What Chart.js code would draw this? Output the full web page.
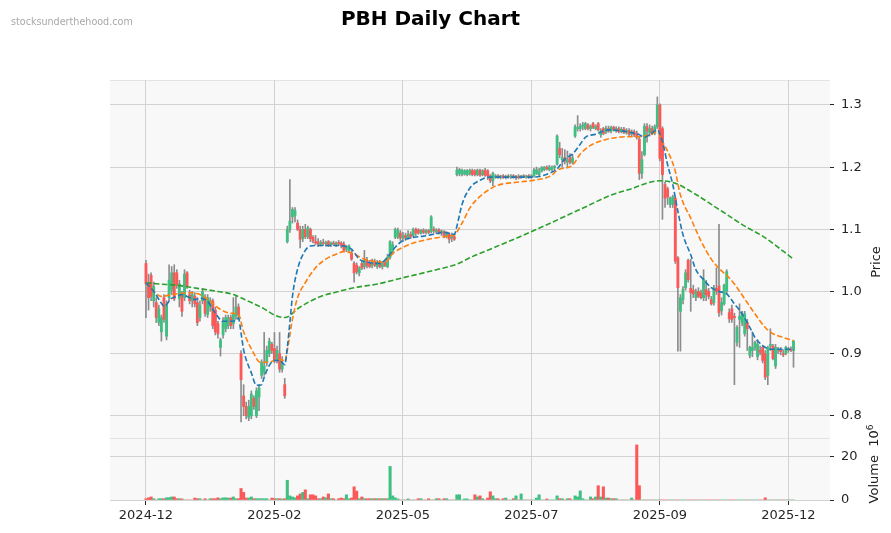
<!DOCTYPE html>
<html>
<head>
<meta charset="utf-8">
<script src="https://cdn.jsdelivr.net/npm/chart.js@4.4.1/dist/chart.umd.min.js"></script>
<style>
  body { margin: 0; background: #fff; font-family: "DejaVu Sans", sans-serif; }
  #wrap { position: relative; width: 891px; height: 533px; }
  #title { position: absolute; left: 0; top: 6px; width: 861px; text-align: center; font-weight: bold; font-size: 20px; color: #000; }
  #mark { position: absolute; left: 11px; top: 16px; font-size: 9.6px; color: #a8a8a8; }
  .rot { position: absolute; transform: translate(-50%, -50%) rotate(-90deg); font-size: 13px; color: #222; white-space: nowrap; }
</style>
</head>
<body>
<div id="wrap">
  <canvas id="c" width="891" height="533"></canvas>
  <div id="title">PBH Daily Chart</div>
  <div id="mark">stocksunderthehood.com</div>
  <div class="rot" style="left:875px; top:262px;">Price</div>
  <div class="rot" style="left:873px; top:464px;">Volume&nbsp; 10<sup style="font-size:9px">6</sup></div>
</div>
<script>
// daily candles, index 0 = first trading day of 2024-12
const opens = [
  1.045,1.012,1.026,0.985,0.982,0.950,0.935,0.990,0.928,0.990,
  1.002,1.030,1.030,0.988,0.995,0.990,1.030,0.995,0.985,0.992,
  0.982,0.958,0.985,0.990,0.963,0.975,0.985,0.970,0.948,0.910,
  0.930,0.940,0.945,0.958,0.948,0.960,0.975,0.900,0.832,0.815,
  0.797,0.800,0.828,0.800,0.830,0.865,0.870,0.885,0.900,0.915,
  0.908,0.890,0.900,0.875,0.850,1.080,1.100,1.120,1.122,1.110,
  1.100,1.085,1.100,1.088,1.100,1.087,1.080,1.080,1.076,1.078,
  1.077,1.080,1.075,1.078,1.076,1.078,1.078,1.076,1.068,1.066,
  1.062,1.045,1.042,1.030,1.045,1.040,1.050,1.046,1.042,1.048,
  1.040,1.047,1.040,1.046,1.040,1.055,1.065,1.087,1.088,1.094,
  1.086,1.090,1.086,1.092,1.090,1.100,1.099,1.094,1.098,1.095,
  1.098,1.096,1.100,1.096,1.099,1.094,1.096,1.090,1.092,1.086,
  1.088,1.188,1.190,1.188,1.189,1.188,1.189,1.195,1.194,1.188,
  1.195,1.188,1.195,1.194,1.186,1.178,1.184,1.186,1.184,1.186,
  1.183,1.185,1.184,1.186,1.183,1.185,1.184,1.186,1.184,1.186,
  1.184,1.186,1.190,1.188,1.194,1.196,1.200,1.196,1.196,1.199,
  1.205,1.230,1.212,1.215,1.208,1.215,1.208,1.250,1.262,1.262,
  1.266,1.262,1.268,1.262,1.270,1.262,1.270,1.252,1.262,1.256,
  1.262,1.258,1.264,1.258,1.262,1.257,1.261,1.256,1.259,1.253,
  1.257,1.254,1.245,1.190,1.220,1.265,1.255,1.262,1.255,1.265,
  1.300,1.262,1.172,1.165,1.140,1.140,1.150,1.054,0.968,0.987,
  1.006,1.050,1.005,1.002,0.990,1.000,0.998,0.990,1.003,1.000,
  0.987,0.982,1.005,1.009,0.969,0.980,1.000,0.966,0.972,0.960,
  0.918,0.955,0.950,0.932,0.950,0.897,0.905,0.910,0.895,0.905,
  0.910,0.900,0.865,0.912,0.912,0.880,0.905,0.906,0.900,0.900,
  0.906,0.907,0.905
];
const highs = [
  1.050,1.028,1.030,1.015,0.990,0.978,0.962,0.995,0.985,1.043,
  1.040,1.043,1.035,1.018,1.000,1.035,1.032,1.002,1.000,0.998,
  0.990,0.985,1.005,0.995,0.995,0.990,0.988,0.975,0.952,0.925,
  0.958,0.962,0.962,0.962,0.990,0.992,0.980,0.905,0.850,0.822,
  0.825,0.840,0.832,0.845,0.850,0.890,0.934,0.912,0.925,0.918,
  0.934,0.912,0.934,0.895,0.860,1.105,1.180,1.135,1.135,1.115,
  1.105,1.105,1.108,1.105,1.102,1.090,1.090,1.085,1.082,1.084,
  1.081,1.082,1.080,1.081,1.080,1.082,1.080,1.080,1.074,1.075,
  1.066,1.048,1.046,1.040,1.050,1.066,1.055,1.050,1.052,1.052,
  1.050,1.050,1.048,1.050,1.060,1.082,1.080,1.102,1.102,1.098,
  1.095,1.094,1.098,1.096,1.102,1.102,1.101,1.100,1.101,1.100,
  1.100,1.122,1.104,1.101,1.101,1.099,1.098,1.096,1.094,1.094,
  1.092,1.200,1.198,1.197,1.196,1.196,1.197,1.197,1.196,1.197,
  1.197,1.196,1.198,1.196,1.188,1.192,1.188,1.188,1.187,1.188,
  1.187,1.188,1.188,1.188,1.187,1.188,1.187,1.188,1.187,1.188,
  1.188,1.198,1.200,1.198,1.201,1.201,1.202,1.203,1.202,1.203,
  1.252,1.240,1.230,1.228,1.226,1.222,1.220,1.268,1.283,1.270,
  1.272,1.272,1.270,1.268,1.272,1.268,1.272,1.262,1.264,1.266,
  1.266,1.266,1.266,1.265,1.265,1.264,1.264,1.262,1.262,1.260,
  1.260,1.258,1.248,1.225,1.270,1.270,1.268,1.266,1.268,1.313,
  1.302,1.265,1.176,1.168,1.152,1.155,1.152,1.056,0.995,1.008,
  1.035,1.052,1.052,1.010,1.004,1.006,1.002,1.035,1.018,1.005,
  0.992,1.010,1.038,1.108,0.990,1.012,1.035,0.972,0.978,0.965,
  0.945,0.980,0.968,0.968,0.955,0.912,0.935,0.920,0.922,0.912,
  0.912,0.905,0.912,0.940,0.915,0.915,0.910,0.910,0.906,0.912,
  0.910,0.911,0.921
];
const lows = [
  0.958,0.970,0.985,0.975,0.950,0.945,0.920,0.950,0.922,0.985,
  0.995,0.985,1.005,0.975,0.960,0.985,1.005,0.980,0.975,0.975,
  0.945,0.952,0.980,0.960,0.958,0.968,0.940,0.930,0.925,0.896,
  0.925,0.935,0.940,0.940,0.940,0.955,0.955,0.790,0.800,0.795,
  0.792,0.795,0.810,0.797,0.808,0.860,0.865,0.880,0.895,0.900,
  0.885,0.885,0.870,0.870,0.828,1.078,1.095,1.110,1.112,1.098,
  1.070,1.080,1.085,1.085,1.080,1.078,1.075,1.072,1.073,1.074,
  1.073,1.072,1.072,1.074,1.072,1.074,1.070,1.064,1.064,1.062,
  1.050,1.015,1.028,1.025,1.035,1.036,1.038,1.038,1.038,1.040,
  1.037,1.038,1.036,1.040,1.038,1.052,1.060,1.085,1.085,1.082,
  1.080,1.082,1.084,1.085,1.088,1.090,1.092,1.092,1.093,1.092,
  1.093,1.094,1.094,1.093,1.092,1.090,1.086,1.086,1.078,1.080,
  1.082,1.186,1.186,1.186,1.187,1.186,1.187,1.186,1.186,1.186,
  1.185,1.186,1.185,1.180,1.175,1.170,1.182,1.182,1.181,1.182,
  1.181,1.182,1.182,1.182,1.180,1.181,1.182,1.183,1.182,1.182,
  1.182,1.184,1.188,1.186,1.192,1.194,1.195,1.194,1.194,1.195,
  1.203,1.215,1.200,1.205,1.200,1.205,1.205,1.248,1.258,1.258,
  1.260,1.260,1.260,1.258,1.262,1.260,1.258,1.248,1.252,1.254,
  1.256,1.255,1.258,1.256,1.255,1.255,1.254,1.253,1.250,1.250,
  1.249,1.245,1.180,1.182,1.218,1.240,1.250,1.252,1.252,1.262,
  1.210,1.116,1.135,1.140,1.135,1.135,1.045,0.904,0.904,0.980,
  1.002,1.015,0.968,0.990,0.985,0.990,0.988,0.985,0.985,0.988,
  0.978,0.978,0.995,0.960,0.962,0.978,0.995,0.950,0.950,0.850,
  0.912,0.910,0.945,0.928,0.905,0.893,0.895,0.905,0.890,0.898,
  0.885,0.858,0.850,0.905,0.890,0.876,0.900,0.898,0.895,0.898,
  0.902,0.903,0.878
];
const closes = [
  1.012,0.990,0.992,1.008,0.958,0.972,0.958,0.955,0.978,1.018,
  1.030,0.988,1.010,1.012,0.968,1.028,1.008,0.985,0.995,0.980,
  0.950,0.978,1.000,0.965,0.990,0.985,0.945,0.935,0.932,0.922,
  0.952,0.958,0.958,0.945,0.965,0.975,0.962,0.858,0.815,0.800,
  0.815,0.835,0.815,0.840,0.845,0.886,0.880,0.905,0.920,0.905,
  0.890,0.905,0.875,0.885,0.832,1.100,1.113,1.132,1.130,1.100,
  1.084,1.100,1.088,1.102,1.085,1.081,1.078,1.076,1.079,1.077,
  1.079,1.075,1.078,1.076,1.078,1.077,1.074,1.066,1.072,1.073,
  1.052,1.030,1.032,1.038,1.038,1.050,1.042,1.040,1.048,1.042,
  1.047,1.040,1.045,1.042,1.055,1.080,1.075,1.100,1.098,1.086,
  1.090,1.086,1.092,1.088,1.100,1.094,1.094,1.098,1.095,1.098,
  1.095,1.120,1.098,1.099,1.094,1.097,1.090,1.094,1.084,1.090,
  1.084,1.195,1.196,1.195,1.194,1.195,1.195,1.188,1.188,1.195,
  1.187,1.194,1.187,1.186,1.178,1.190,1.186,1.184,1.186,1.183,
  1.185,1.184,1.186,1.183,1.185,1.183,1.186,1.184,1.186,1.184,
  1.186,1.195,1.196,1.193,1.199,1.200,1.197,1.200,1.199,1.201,
  1.250,1.220,1.215,1.210,1.212,1.208,1.215,1.265,1.262,1.266,
  1.268,1.270,1.262,1.266,1.264,1.266,1.260,1.258,1.254,1.262,
  1.258,1.264,1.260,1.262,1.257,1.261,1.256,1.259,1.253,1.257,
  1.252,1.248,1.190,1.212,1.266,1.258,1.262,1.255,1.265,1.300,
  1.214,1.188,1.150,1.152,1.150,1.152,1.049,1.006,0.990,1.003,
  1.030,1.019,0.998,0.996,1.000,0.992,0.990,1.020,0.995,0.992,
  0.980,1.006,1.000,0.966,0.982,1.010,1.032,0.956,0.955,0.958,
  0.942,0.960,0.964,0.964,0.940,0.910,0.910,0.918,0.915,0.902,
  0.889,0.862,0.910,0.915,0.892,0.910,0.906,0.903,0.898,0.910,
  0.907,0.905,0.920
];
// volume in millions
const volumes = [
  0.6,1.0,1.4,0.6,0,0.6,0.6,0.6,1.0,1.1,
  1.4,1.4,0.6,0.6,0.5,0,0,0,0,0.9,
  0.6,0.6,0,0.6,0,0.6,0.6,0.6,1.0,0.6,
  1.0,1.0,0.9,0.9,1.4,0.6,0.6,5.3,3.5,0.9,
  0.9,1.4,0.6,0.6,0.6,0.6,0.6,0.6,0,0.9,
  0.6,0.6,0.6,0.5,0.6,9.1,1.9,1.4,1.0,1.9,
  2.8,3.5,4.7,0.6,2.4,2.4,1.9,0.6,0.6,1.4,
  1.0,2.8,0.6,0.6,0,0.6,0.9,0.6,2.4,0.6,
  0.9,6.1,4.1,0.6,1.4,0.6,0.6,0.6,0.6,0.6,
  0.6,0.6,0.6,0.6,0.6,15.5,1.9,1.0,0.5,0,
  0,0,0.5,0,0,0,0.6,0.6,0,0,
  0.6,0,0,0.6,0.6,0,0.6,0.6,0,0,
  0,2.4,2.4,0,0.5,0.5,0,0,2.4,1.4,
  1.9,0.6,0,0.9,3.8,1.9,0.6,0.6,0,0.6,
  0.9,0,0,0.6,1.9,0,2.8,0,0,0,
  0,0,0.9,2.4,0,0,0.5,0,0,0,
  1.9,0.6,0.6,0,0.6,0.6,0,1.9,1.4,4.2,
  0.6,0,0,1.4,0.6,1.4,6.6,1.4,6.1,0.9,
  0.9,0.6,0.6,0.6,0,0,0,0,0,0.9,
  0,25.4,6.6,0,0,0,0,0,0,0,
  0,0,0,0,0,0,0,0,0,0,
  0,0,0,0,0,0,0,0,0,0,
  0,0,0,0,0,0,0,0,0,0,
  0,0,0,0,0,0,0,0,0,0,
  0,1.0,0,0,0,0,0,0,0,0,
  0,0,0
];

// moving-average lines as [day index, price]
const maFast = [
  [0,1.014],[3,1.0],[6,0.981],[7,0.976],[10,0.989],[12,0.992],[14,0.995],[16,0.992],[19,0.987],[21,0.989],
  [24,0.984],[27,0.965],[30,0.952],[34,0.952],[36,0.957],[37,0.933],[38,0.906],[41,0.869],[43,0.849],[45,0.85],
  [46,0.862],[48,0.881],[50,0.889],[52,0.889],[54,0.882],[55,0.91],[56,0.95],[57,0.992],[59,1.036],[62,1.066],
  [64,1.073],[68,1.074],[74,1.074],[77,1.073],[80,1.068],[83,1.052],[86,1.047],[91,1.045],[94,1.055],[97,1.071],
  [100,1.082],[104,1.087],[108,1.089],[112,1.092],[116,1.095],[120,1.092],[121,1.105],[123,1.14],[126,1.166],[130,1.179],
  [134,1.184],[151,1.184],[158,1.192],[160,1.197],[163,1.213],[166,1.221],[169,1.237],[171,1.248],[175,1.253],[180,1.26],
  [187,1.257],[192,1.252],[194,1.248],[196,1.252],[199,1.26],[201,1.241],[203,1.204],[205,1.172],[207,1.129],[209,1.091],
  [212,1.059],[214,1.035],[217,1.019],[220,1.006],[223,1.0],[226,0.996],[229,0.98],[232,0.964],[235,0.942],[237,0.926],
  [240,0.913],[243,0.907],[252,0.907]
];
const maMid = [
  [0,1.014],[2,1.005],[6,0.992],[10,0.995],[14,0.997],[18,0.998],[21,0.995],[25,0.984],[29,0.971],[33,0.965],
  [36,0.963],[38,0.935],[42,0.9],[44,0.887],[46,0.886],[48,0.886],[50,0.889],[53,0.89],[54,0.887],[55,0.905],
  [57,0.955],[59,0.99],[62,1.014],[66,1.038],[70,1.052],[74,1.06],[77,1.064],[81,1.06],[85,1.052],[90,1.048],
  [93,1.047],[96,1.061],[100,1.071],[105,1.079],[110,1.084],[116,1.088],[120,1.091],[123,1.11],[126,1.134],[130,1.153],
  [134,1.165],[137,1.171],[145,1.176],[151,1.179],[158,1.187],[160,1.195],[166,1.203],[169,1.221],[173,1.235],[177,1.242],
  [182,1.247],[187,1.249],[192,1.249],[196,1.252],[199,1.257],[201,1.241],[204,1.217],[206,1.193],[208,1.155],[212,1.118],
  [216,1.081],[220,1.052],[224,1.033],[226,1.026],[229,1.012],[233,0.988],[237,0.964],[241,0.942],[244,0.932],[248,0.926],
  [252,0.921]
];
const maSlow = [
  [0,1.014],[5,1.012],[12,1.01],[20,1.005],[28,1.0],[34,0.995],[40,0.984],[46,0.972],[50,0.962],[54,0.958],
  [60,0.975],[68,0.992],[75,1.0],[81,1.006],[90,1.012],[100,1.022],[113,1.035],[121,1.044],[127,1.056],[134,1.068],
  [151,1.098],[171,1.136],[181,1.155],[188,1.164],[200,1.178],[206,1.174],[214,1.156],[223,1.132],[226,1.124],[233,1.105],
  [240,1.089],[252,1.052]
];

const xTickPos = [0, 50, 100, 150, 200, 250];
const xTickLabels = ['2024-12', '2025-02', '2025-05', '2025-07', '2025-09', '2025-12'];
const priceTicks = [0.8, 0.9, 1.0, 1.1, 1.2, 1.3];
const volTicks = [0, 20];

const UP = '#3fbf82', DOWN = '#fb5858', WICK = '#8c8c8c';
const isUp = i => closes[i] >= opens[i];

const wickData = opens.map((o, i) => ({ x: i, y: [lows[i], highs[i]] }));
const bodyData = opens.map((o, i) => ({ x: i, y: [Math.min(o, closes[i]), Math.max(o, closes[i])] }));
const volData = volumes.map((v, i) => ({ x: i, y: v }));
const toPts = arr => arr.map(p => ({ x: p[0], y: p[1] }));

const font = { family: 'DejaVu Sans', size: 13 };
const gridColor = '#d2d2d2';

// light plot background plus the faint panel edges
const plotBg = {
  id: 'plotBg',
  beforeDraw(chart) {
    const { ctx, chartArea: a } = chart;
    ctx.save();
    ctx.fillStyle = '#f8f8f8';
    ctx.fillRect(a.left, a.top, a.right - a.left, a.bottom - a.top);
    ctx.strokeStyle = '#e4e4e4';
    ctx.lineWidth = 1;
    const split = Math.round(chart.scales.yv.top) + 0.5;
    ctx.beginPath();
    ctx.moveTo(a.left, a.top + 0.5); ctx.lineTo(a.right, a.top + 0.5);
    ctx.moveTo(a.left, split); ctx.lineTo(a.right, split);
    ctx.stroke();
    ctx.restore();
  }
};

function maLine(label, arr, color) {
  return {
    type: 'line', label, data: toPts(arr), yAxisID: 'y',
    borderColor: color, borderWidth: 1.6, borderDash: [5.5, 2.5],
    pointRadius: 0, cubicInterpolationMode: 'monotone', order: 0
  };
}

new Chart(document.getElementById('c'), {
  type: 'bar',
  data: {
    datasets: [
      maLine('fast', maFast, '#1f77b4'),
      maLine('mid', maMid, '#ff7f0e'),
      maLine('slow', maSlow, '#2ca02c'),
      { label: 'body', data: bodyData, yAxisID: 'y', grouped: false, barThickness: 2.2, minBarLength: 1,
        backgroundColor: ctx => isUp(ctx.dataIndex) ? UP : DOWN, order: 1 },
      { label: 'wick', data: wickData, yAxisID: 'y', grouped: false, barThickness: 1,
        backgroundColor: WICK, order: 2 },
      { label: 'volume', data: volData, yAxisID: 'yv', grouped: false, barThickness: 2.4,
        backgroundColor: ctx => isUp(ctx.dataIndex) ? UP : DOWN, order: 3 }
    ]
  },
  options: {
    responsive: false,
    animation: false,
    devicePixelRatio: 1,
    layout: { padding: { left: 110, top: 80, right: 0, bottom: 0 } },
    plugins: { legend: { display: false }, tooltip: { enabled: false } },
    scales: {
      x: {
        type: 'linear', min: -14, max: 266.2, offset: false,
        afterBuildTicks: s => { s.ticks = xTickPos.map(v => ({ value: v })); },
        afterFit: s => { s.height = 33; },
        ticks: { font, color: '#262626', padding: 3, maxRotation: 0,
          callback: v => xTickLabels[xTickPos.indexOf(v)] },
        grid: { offset: false, color: gridColor, tickColor: '#262626', tickLength: 5 },
        border: { display: false }
      },
      y: {
        type: 'linear', position: 'right', stack: 'panels', stackWeight: 358, offset: false,
        min: 0.7642, max: 1.3402,
        afterBuildTicks: s => { s.ticks = priceTicks.map(v => ({ value: v })); },
        afterFit: s => { s.width = 61; },
        ticks: { font, color: '#262626', padding: 7, callback: v => v.toFixed(1) },
        grid: { color: gridColor, tickColor: '#262626', tickLength: 4 },
        border: { display: false }
      },
      yv: {
        type: 'linear', position: 'right', stack: 'panels', stackWeight: 62, offset: false,
        min: 0, max: 28.6,
        afterBuildTicks: s => { s.ticks = volTicks.map(v => ({ value: v })); },
        afterFit: s => { s.width = 61; },
        ticks: { font, color: '#262626', padding: 7, callback: v => String(v) },
        grid: { color: gridColor, tickColor: '#262626', tickLength: 4 },
        border: { display: false }
      }
    }
  },
  plugins: [plotBg]
});
</script>
</body>
</html>
